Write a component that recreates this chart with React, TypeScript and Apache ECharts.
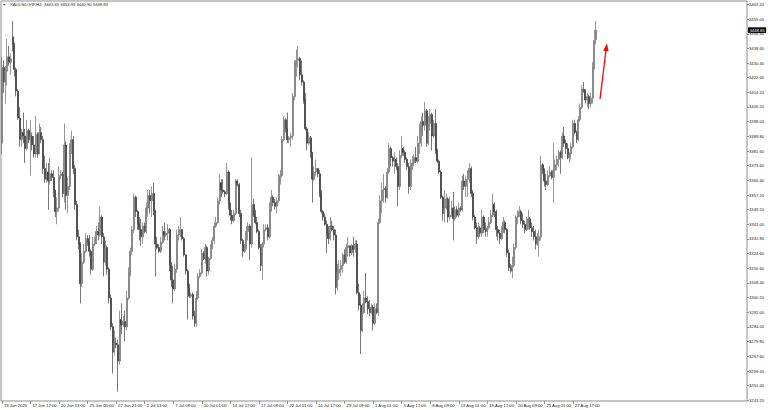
import React, { useEffect, useRef } from "react";
import * as echarts from "echarts";

const symbolTitle = "XAUUSD-VIP,H4";
const lastBar = { open: 3443.65, high: 3453.93, low: 3440.9, close: 3448.83 };

// x tick labels, one every 16 H4 bars starting at bar 0
const xTickLabels = [
  "13 Jun 2025", "17 Jun 17:00", "20 Jun 13:00", "25 Jun 05:00", "27 Jun 21:00",
  "2 Jul 13:00", "7 Jul 09:00", "10 Jul 01:00", "14 Jul 17:00", "17 Jul 09:00",
  "22 Jul 01:00", "24 Jul 17:00", "29 Jul 09:00", "1 Aug 01:00", "5 Aug 17:00",
  "8 Aug 09:00", "13 Aug 01:00", "15 Aug 17:00", "20 Aug 09:00", "25 Aug 01:00",
  "27 Aug 17:00",
];

const yTickValues = [
  3243.2, 3251.4, 3259.4, 3267.6, 3275.8, 3284.0, 3292.0, 3300.2, 3308.4, 3316.6,
  3324.6, 3332.8, 3341.0, 3349.2, 3357.2, 3365.4, 3373.6, 3381.6, 3389.8, 3398.0,
  3406.2, 3414.2, 3422.4, 3430.4, 3438.6, 3446.8, 3455.0, 3463.2,
];

// [open, close, low, high]
const candles: number[][] = [
  [3386,3428,3380,3434],[3428,3420,3414,3432],[3420,3426,3408,3429],[3426,3434,3418,3444],[3434,3431,3429,3440],
  [3431,3433,3424,3436],[3445,3441,3437,3454],[3441,3427,3423,3442],[3427,3415,3412,3428],[3415,3400,3399,3416],
  [3400,3388,3384,3406],[3388,3392,3384,3394],[3392,3390,3386,3403],[3390,3383,3375,3394],[3383,3393,3382,3399],
  [3393,3388,3386,3394],[3388,3390,3368,3399],[3390,3385,3382,3392],[3385,3380,3378,3390],[3380,3391,3378,3401],
  [3391,3380,3378,3392],[3380,3392,3380,3397],[3392,3388,3386,3395],[3388,3372,3369,3390],[3372,3366,3364,3379],
  [3366,3370,3364,3375],[3370,3365,3349,3375],[3365,3369,3363,3378],[3369,3367,3365,3371],[3367,3360,3356,3371],
  [3360,3348,3345,3360],[3348,3350,3341,3356],[3350,3368,3348,3373],[3368,3369,3366,3371],[3369,3358,3356,3370],
  [3358,3385,3353,3397],[3385,3357,3349,3387],[3357,3362,3347,3367],[3362,3384,3360,3386],[3384,3388,3380,3393],
  [3388,3372,3369,3390],[3372,3352,3349,3374],[3352,3334,3332,3354],[3334,3330,3327,3338],[3330,3308,3297,3331],
  [3308,3320,3306,3325],[3320,3326,3319,3330],[3326,3333,3325,3336],[3333,3331,3329,3335],[3331,3326,3323,3335],
  [3326,3316,3313,3327],[3316,3330,3315,3334],[3330,3332,3329,3334],[3332,3337,3330,3340],[3337,3335,3332,3342],
  [3335,3345,3334,3351],[3345,3334,3330,3346],[3334,3320,3312,3336],[3320,3328,3318,3332],[3328,3316,3313,3329],
  [3316,3300,3297,3317],[3300,3284,3282,3302],[3284,3270,3258,3286],[3270,3275,3268,3282],[3275,3274,3272,3278],
  [3274,3265,3248,3277],[3265,3288,3263,3293],[3288,3285,3280,3297],[3285,3287,3284,3290],[3287,3284,3276,3293],
  [3284,3300,3282,3304],[3300,3314,3299,3317],[3314,3326,3312,3328],[3326,3338,3324,3340],[3338,3356,3336,3358],
  [3356,3348,3345,3357],[3348,3341,3338,3349],[3341,3338,3332,3345],[3338,3334,3329,3344],[3334,3340,3330,3342],
  [3340,3337,3336,3342],[3337,3350,3336,3353],[3350,3357,3345,3360],[3357,3354,3347,3360],[3354,3358,3345,3362],
  [3358,3348,3346,3364],[3348,3330,3312,3349],[3330,3328,3327,3334],[3328,3326,3325,3330],[3326,3331,3325,3334],
  [3331,3337,3330,3340],[3337,3335,3332,3342],[3335,3336,3334,3337],[3336,3338,3332,3341],[3338,3318,3315,3339],
  [3318,3310,3306,3320],[3310,3305,3297,3318],[3305,3316,3304,3319],[3316,3335,3314,3338],[3335,3337,3332,3340],
  [3337,3338,3334,3345],[3338,3333,3332,3338],[3333,3324,3323,3334],[3324,3315,3313,3324],[3315,3306,3288,3316],
  [3306,3301,3300,3308],[3301,3302,3300,3303],[3302,3290,3288,3303],[3290,3286,3284,3293],[3286,3300,3284,3304],
  [3300,3312,3299,3314],[3312,3314,3311,3316],[3314,3325,3313,3327],[3325,3322,3321,3326],[3322,3328,3319,3330],
  [3328,3315,3312,3329],[3315,3322,3313,3323],[3322,3329,3321,3330],[3329,3332,3327,3334],[3332,3340,3330,3342],
  [3340,3342,3339,3345],[3342,3354,3341,3356],[3354,3364,3352,3369],[3364,3360,3356,3366],[3360,3359,3358,3366],
  [3359,3358,3356,3360],[3358,3370,3357,3375],[3370,3352,3349,3371],[3352,3346,3343,3353],[3346,3343,3341,3349],
  [3343,3347,3342,3349],[3347,3365,3346,3366],[3365,3363,3362,3366],[3363,3347,3345,3364],[3347,3332,3330,3349],
  [3332,3326,3323,3333],[3326,3328,3325,3330],[3328,3337,3327,3340],[3337,3340,3332,3342],[3340,3330,3321,3341],
  [3330,3352,3328,3378],[3352,3346,3345,3355],[3346,3342,3341,3349],[3342,3337,3336,3345],[3337,3328,3327,3338],
  [3328,3318,3315,3330],[3318,3330,3310,3331],[3330,3338,3328,3341],[3338,3339,3337,3341],[3339,3334,3332,3341],
  [3334,3349,3333,3353],[3349,3356,3348,3360],[3356,3353,3351,3357],[3353,3351,3349,3355],[3351,3354,3347,3356],
  [3354,3366,3353,3369],[3366,3368,3363,3371],[3368,3388,3367,3390],[3388,3399,3387,3401],[3399,3394,3392,3400],
  [3394,3388,3386,3403],[3388,3389,3386,3390],[3389,3390,3384,3392],[3390,3412,3388,3414],[3412,3430,3410,3432],
  [3430,3432,3423,3438],[3432,3433,3428,3440],[3433,3424,3421,3434],[3424,3420,3418,3432],[3420,3410,3408,3421],
  [3410,3394,3393,3414],[3394,3386,3382,3395],[3386,3389,3385,3392],[3389,3381,3378,3390],[3381,3366,3353,3381],
  [3366,3370,3365,3373],[3370,3372,3368,3377],[3372,3369,3367,3372],[3369,3358,3356,3371],[3358,3348,3347,3360],
  [3348,3345,3343,3349],[3345,3341,3340,3347],[3341,3336,3325,3343],[3336,3333,3330,3340],[3333,3340,3332,3345],
  [3340,3338,3337,3343],[3338,3335,3332,3340],[3335,3306,3302,3338],[3306,3314,3304,3319],[3314,3316,3310,3321],
  [3316,3318,3312,3321],[3318,3324,3314,3325],[3324,3320,3319,3327],[3320,3328,3319,3330],[3328,3329,3323,3334],
  [3329,3325,3323,3329],[3325,3329,3324,3330],[3329,3327,3323,3334],[3327,3330,3325,3332],[3330,3303,3302,3332],
  [3303,3296,3293,3308],[3296,3282,3269,3302],[3282,3292,3281,3297],[3292,3300,3291,3304],[3300,3298,3297,3314],
  [3298,3294,3291,3301],[3294,3292,3290,3299],[3292,3295,3291,3297],[3295,3286,3282,3296],[3286,3294,3285,3297],
  [3294,3292,3291,3297],[3292,3342,3290,3344],[3342,3354,3341,3357],[3354,3360,3347,3364],[3360,3361,3353,3369],
  [3361,3356,3353,3362],[3356,3370,3355,3372],[3370,3383,3369,3386],[3383,3378,3373,3384],[3378,3376,3373,3379],
  [3376,3377,3369,3381],[3377,3373,3371,3378],[3373,3362,3351,3375],[3362,3379,3360,3382],[3379,3383,3378,3390],
  [3383,3381,3379,3384],[3381,3377,3375,3382],[3377,3373,3371,3378],[3373,3362,3358,3375],[3362,3372,3360,3377],
  [3372,3375,3371,3379],[3375,3378,3373,3380],[3378,3376,3375,3384],[3376,3386,3375,3390],[3386,3394,3380,3397],
  [3394,3398,3384,3401],[3398,3396,3390,3403],[3396,3404,3393,3409],[3404,3386,3384,3405],[3386,3397,3385,3401],
  [3397,3402,3393,3405],[3402,3390,3382,3403],[3390,3397,3389,3399],[3397,3382,3380,3405],[3382,3376,3375,3383],
  [3376,3370,3369,3377],[3370,3356,3355,3371],[3356,3347,3343,3357],[3347,3350,3342,3360],[3350,3355,3349,3358],
  [3355,3345,3342,3356],[3345,3346,3343,3356],[3346,3350,3345,3354],[3350,3344,3332,3359],[3344,3349,3343,3351],
  [3349,3346,3345,3351],[3346,3350,3345,3353],[3350,3349,3348,3351],[3349,3365,3348,3368],[3365,3362,3360,3369],
  [3362,3366,3356,3368],[3366,3370,3356,3371],[3370,3372,3364,3375],[3372,3358,3356,3373],[3358,3345,3343,3360],
  [3345,3339,3338,3346],[3339,3334,3330,3342],[3334,3339,3333,3342],[3339,3336,3334,3340],[3336,3345,3334,3349],
  [3345,3338,3336,3346],[3338,3337,3334,3342],[3337,3339,3334,3340],[3339,3342,3338,3345],[3342,3346,3341,3349],
  [3346,3352,3345,3358],[3352,3348,3345,3353],[3348,3338,3334,3349],[3338,3336,3332,3340],[3336,3333,3330,3338],
  [3333,3337,3332,3340],[3337,3342,3336,3345],[3342,3338,3336,3343],[3338,3325,3323,3339],[3325,3317,3315,3327],
  [3317,3315,3314,3319],[3315,3318,3311,3323],[3318,3328,3317,3330],[3328,3345,3327,3346],[3345,3347,3341,3349],
  [3347,3348,3345,3351],[3348,3343,3341,3349],[3343,3341,3339,3347],[3341,3338,3336,3343],[3338,3342,3337,3345],
  [3342,3344,3338,3349],[3344,3339,3338,3345],[3339,3337,3334,3342],[3337,3334,3332,3340],[3334,3330,3327,3338],
  [3330,3332,3329,3336],[3332,3334,3323,3338],[3334,3374,3332,3379],[3374,3371,3369,3375],[3371,3365,3362,3372],
  [3365,3363,3360,3369],[3363,3368,3362,3371],[3368,3370,3367,3373],[3370,3367,3366,3371],[3367,3371,3353,3386],
  [3371,3374,3367,3377],[3374,3377,3371,3379],[3377,3381,3373,3382],[3381,3378,3369,3382],[3378,3390,3377,3392],
  [3390,3386,3384,3395],[3386,3383,3380,3388],[3383,3378,3377,3386],[3378,3380,3375,3381],[3380,3384,3377,3386],
  [3384,3397,3383,3399],[3397,3392,3391,3399],[3392,3388,3386,3393],[3388,3399,3387,3401],[3399,3406,3398,3408],
  [3406,3416,3405,3418],[3416,3415,3414,3420],[3415,3410,3408,3416],[3410,3412,3406,3414],[3412,3408,3405,3413],
  [3408,3411,3406,3414],[3411,3428,3408,3431],[3428,3443,3427,3449],
  [lastBar.open, lastBar.close, lastBar.low, lastBar.high],
];

const SLOTS = 418; // bar slots visible across the plot (incl. empty right margin)
const LABEL_STEP = 16;
const FONT = "Liberation Sans, Arial, sans-serif";

export default function App() {
  const ref = useRef<HTMLDivElement>(null);

  useEffect(() => {
    if (!ref.current) return;
    const chart = echarts.init(ref.current, null, { renderer: "svg" });
    const categories = Array.from({ length: SLOTS }, (_, i) => String(i));
    const showIdx = (i: number) => i % LABEL_STEP === 0 && i < candles.length;

    chart.setOption({
      animation: false,
      backgroundColor: "#ffffff",
      grid: {
        left: 1, top: 1, width: 746, height: 400,
        show: true, borderColor: "#8c8c8c", borderWidth: 1, backgroundColor: "#ffffff",
      },
      xAxis: {
        type: "category",
        data: categories,
        boundaryGap: true,
        axisLine: { show: false },
        axisTick: {
          show: true, alignWithLabel: true, length: 3, interval: showIdx,
          lineStyle: { color: "#555", width: 0.6 },
        },
        axisLabel: {
          interval: showIdx,
          formatter: (v: string) => {
            const n = Number(v);
            return n % LABEL_STEP === 0 ? xTickLabels[n / LABEL_STEP] ?? "" : "";
          },
          fontSize: 4.2, fontFamily: FONT, color: "#222", align: "left",
          margin: 2, padding: [0, 0, 0, 2],
        },
        splitLine: { show: false },
      },
      yAxis: {
        type: "value",
        position: "right",
        min: 3242.8,
        max: 3465.0,
        axisLine: { show: false },
        axisTick: {
          show: true, length: 2, customValues: yTickValues,
          lineStyle: { color: "#555", width: 0.6 },
        },
        axisLabel: {
          customValues: yTickValues,
          formatter: (v: number) => v.toFixed(2),
          fontSize: 4.2, fontFamily: FONT, color: "#222", margin: 2, align: "left",
        },
        splitLine: { show: false },
      },
      series: [
        {
          type: "candlestick",
          data: candles,
          barWidth: 1.5,
          itemStyle: {
            color: "#b0b0b0",
            color0: "#0a0a0a",
            borderColor: "#6a6a6a",
            borderColor0: "#3c3c3c",
            borderWidth: 0.7,
          },
          markLine: {
            silent: true,
            symbol: ["none", "none"],
            lineStyle: { color: "rgba(0,0,0,0)", width: 0 },
            label: {
              show: true, position: "end", distance: 1,
              formatter: () => lastBar.close.toFixed(2),
              backgroundColor: "#000000", color: "#ffffff", opacity: 1,
              fontSize: 4.2, fontFamily: FONT, padding: [0.8, 1.5, 0.8, 1.5],
            },
            data: [{ yAxis: lastBar.close }],
          },
        },
      ],
      graphic: [
        {
          type: "text", left: 2.5, top: 2.6,
          style: { text: "▼", fontSize: 3.5, fill: "#333", fontFamily: FONT },
        },
        {
          type: "text", left: 10, top: 2.4,
          style: {
            text: `${symbolTitle}  ${lastBar.open.toFixed(2)} ${lastBar.high.toFixed(2)} ${lastBar.low.toFixed(2)} ${lastBar.close.toFixed(2)}`,
            fontSize: 4.2, fill: "#222", fontFamily: FONT,
          },
        },
        {
          type: "line",
          shape: { x1: 600, y1: 99, x2: 605.9, y2: 51 },
          style: { stroke: "#ff0000", lineWidth: 1.3 },
        },
        {
          type: "polygon",
          shape: { points: [[606.8, 43.5], [608.7, 51.3], [603.2, 50.7]] },
          style: { fill: "#ff0000" },
        },
      ],
    });

    return () => chart.dispose();
  }, []);

  return (
    <div
      ref={ref}
      style={{ position: "fixed", left: 0, top: 0, width: 768, height: 410, background: "#fff" }}
    />
  );
}
